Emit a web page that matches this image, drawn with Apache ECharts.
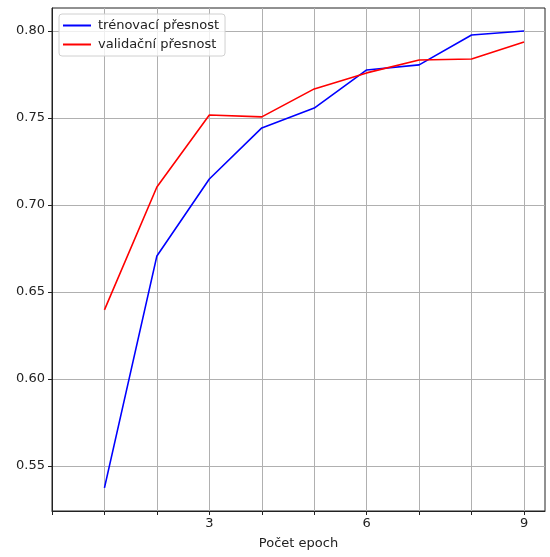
<!DOCTYPE html>
<html>
<head>
<meta charset="utf-8">
<script src="https://cdn.jsdelivr.net/npm/echarts@6/dist/echarts.min.js"></script>
<style>
  html, body { margin: 0; padding: 0; background: #fff; }
  #chart { width: 550px; height: 557px; }
</style>
</head>
<body>
<div id="chart"></div>
<script>
  // epochy a presnosti
  var epochs = [1, 2, 3, 4, 5, 6, 7, 8, 9];
  var trainAcc = [0.5374, 0.6707, 0.7149, 0.7443, 0.7557, 0.7776, 0.7805, 0.7977, 0.8000];
  var valAcc = [0.6397, 0.7103, 0.7517, 0.7506, 0.7667, 0.7759, 0.7833, 0.7839, 0.7937];
  var xTicks = [0, 1, 2, 3, 4, 5, 6, 7, 8, 9];
  var xLabels = [3, 6, 9];
  var yTicks = [0.55, 0.60, 0.65, 0.70, 0.75, 0.80];

  function pairs(xs, ys) {
    var out = [];
    for (var i = 0; i < xs.length; i++) {
      out.push([xs[i], ys[i]]);
    }
    return out;
  }

  var font = 'DejaVu Sans';
  var myChart = echarts.init(document.getElementById('chart'));
  var option = {
    animation: false,
    textStyle: { fontFamily: font },
    grid: {
      left: 52, right: 5, top: 8, bottom: 46,
      show: true,
      borderColor: '#222',
      borderWidth: 1
    },
    legend: {
      orient: 'vertical',
      left: 59,
      top: 14,
      itemGap: 6,
      itemWidth: 28,
      itemHeight: 2,
      icon: 'rect',
      padding: [5, 6, 5, 4],
      backgroundColor: 'rgba(255,255,255,0.8)',
      borderColor: '#d0d0d0',
      borderWidth: 1,
      borderRadius: 3,
      textStyle: { fontFamily: font, fontSize: 13, color: '#222', padding: [0, 0, 0, 2] },
      data: ['trénovací přesnost', 'validační přesnost']
    },
    xAxis: {
      type: 'value',
      min: 0,
      max: 9.4,
      name: 'Počet epoch',
      nameLocation: 'middle',
      nameGap: 26,
      nameTextStyle: { fontFamily: font, fontSize: 13, color: '#222' },
      axisLine: { show: true, onZero: false, lineStyle: { color: '#222', width: 1 } },
      axisTick: { show: true, length: 4, customValues: xTicks, lineStyle: { color: '#222' } },
      axisLabel: { customValues: xLabels, fontFamily: font, fontSize: 13, color: '#222', margin: 6 },
      splitLine: { show: true, lineStyle: { color: '#b0b0b0', width: 1 } }
    },
    yAxis: {
      type: 'value',
      min: 0.5241,
      max: 0.8132,
      axisLine: { show: true, lineStyle: { color: '#222', width: 1 } },
      axisTick: { show: true, length: 4, customValues: yTicks, lineStyle: { color: '#222' } },
      axisLabel: {
        customValues: yTicks,
        fontFamily: font, fontSize: 13, color: '#222', margin: 7,
        formatter: function (v) { return v.toFixed(2); }
      },
      splitLine: { show: true, lineStyle: { color: '#b0b0b0', width: 1 } }
    },
    series: [{
      name: 'trénovací přesnost',
      type: 'line',
      data: pairs(epochs, trainAcc),
      showSymbol: false,
      color: '#0000ff',
      lineStyle: { width: 1.6 }
    }, {
      name: 'validační přesnost',
      type: 'line',
      data: pairs(epochs, valAcc),
      showSymbol: false,
      color: '#ff0000',
      lineStyle: { width: 1.6 }
    }]
  };
  myChart.setOption(option);
</script>
</body>
</html>
